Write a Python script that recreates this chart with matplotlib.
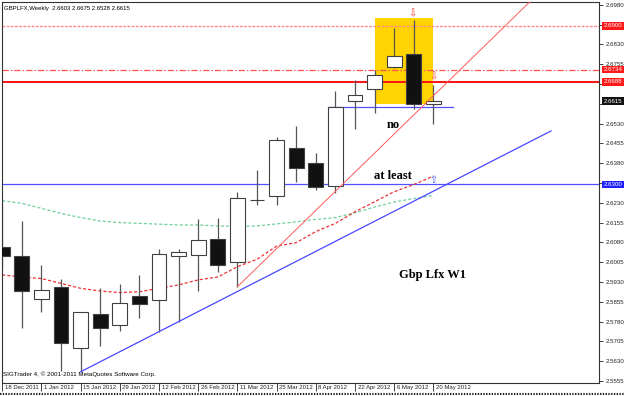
import matplotlib
matplotlib.use('Agg')
import matplotlib.pyplot as plt
import matplotlib.transforms as mtransforms
from matplotlib.patches import Rectangle

plt.rcParams['lines.scale_dashes'] = False

# weekly GBPLFX candles, 18 Dec 2011 .. 20 May 2012
opens = [2.6064, 2.6030, 2.5865, 2.5912, 2.5681, 2.5808, 2.5766, 2.5876, 2.5861, 2.6027, 2.6031, 2.6093,
         2.6005, 2.6240, 2.6257, 2.6439, 2.6380, 2.6294, 2.6617, 2.6660, 2.6743, 2.6792, 2.6603]
highs = [2.6234, 2.6161, 2.5994, 2.5941, 2.5818, 2.5908, 2.5922, 2.5957, 2.6055, 2.6055, 2.6169, 2.6174,
         2.6271, 2.6354, 2.6480, 2.6522, 2.6417, 2.6654, 2.6695, 2.6733, 2.6892, 2.6922, 2.6675]
lows = [2.5979, 2.5757, 2.5816, 2.5594, 2.5590, 2.5689, 2.5746, 2.5795, 2.5741, 2.5777, 2.5897, 2.5967,
        2.5912, 2.6222, 2.6222, 2.6308, 2.6277, 2.6268, 2.6509, 2.6571, 2.6739, 2.6584, 2.6528]
closes = [2.6028, 2.5896, 2.5900, 2.5700, 2.5815, 2.5757, 2.5849, 2.5848, 2.6037, 2.6045, 2.6088, 2.5993,
          2.6247, 2.6242, 2.6468, 2.6361, 2.6289, 2.6592, 2.6637, 2.6714, 2.6785, 2.6603, 2.6615]

# moving averages (red fast, green slow)
red_ma = [2.5957, 2.5949, 2.5943, 2.5925, 2.5906, 2.5896, 2.5890, 2.5893, 2.5906, 2.5919, 2.5938, 2.5949,
          2.5988, 2.6016, 2.6066, 2.6079, 2.6121, 2.6152, 2.6196, 2.6234, 2.6272, 2.6299, 2.6331]
green_ma = [2.6238, 2.6228, 2.6209, 2.6190, 2.6174, 2.6161, 2.6155, 2.6152, 2.6149, 2.6146, 2.6146, 2.6142,
            2.6141, 2.6142, 2.6150, 2.6158, 2.6167, 2.6174, 2.6192, 2.6214, 2.6233, 2.6246, 2.6258]

date_pos = [0, 2, 4, 6, 8, 10, 12, 14, 16, 18, 20, 22]
date_labels = ['18 Dec 2011', '1 Jan 2012', '15 Jan 2012', '29 Jan 2012', '12 Feb 2012', '26 Feb 2012',
               '11 Mar 2012', '25 Mar 2012', '8 Apr 2012', '22 Apr 2012', '6 May 2012', '20 May 2012']

# objects drawn on the chart
level_690 = 2.6900
level_673 = 2.6734
level_669 = 2.6688
level_630 = 2.6300
bid = 2.6615
top_line = 2.6592
blue_trend_x = [4, 28]
blue_trend_y = [2.5590, 2.6502]
red_trend_x = [12, 28]
red_trend_y = [2.5912, 2.7069]
box_x = [19, 22]
box_y = [2.6604, 2.6928]

fig = plt.figure(figsize=(6.25, 3.96), dpi=100)
ax = fig.add_axes([1.7 / 625, 1 - 382.5 / 396, (599.5 - 1.7) / 625, (382.5 - 2) / 396])
ax.set_xlim(-0.0255, 30.474)
ax.set_ylim(2.55495, 2.69902)

small = 'Liberation Sans'

# yellow zone
ax.add_patch(Rectangle((box_x[0], box_y[0]), box_x[1] - box_x[0], box_y[1] - box_y[0],
                       facecolor='#ffd400', edgecolor='none', zorder=0.5))

# horizontal levels
ax.axhline(level_690, color='#ff8a8a', lw=1.0, ls=(0, (2, 1)), zorder=1)
ax.axhline(level_673, color='#ff5050', lw=0.9, ls=(0, (4.5, 1.5, 1, 1.5)), zorder=1)
ax.axhline(level_669, color='#ff1010', lw=1.4, zorder=1)
ax.axhline(level_630, color='#5050ff', lw=0.9, zorder=1)
ax.plot([16.6, 23], [top_line, top_line], color='#5050ff', lw=0.9, zorder=1)

# moving averages
xs = list(range(len(opens)))
ax.plot(xs, green_ma, color='#6fcf9a', lw=0.9, ls=(0, (2.2, 1.5)), zorder=1.5)
ax.plot(xs, red_ma, color='#f03030', lw=0.9, ls=(0, (2.2, 1.5)), zorder=1.5)

# candles
ax.vlines(xs, lows, highs, color='#555555', lw=0.9, zorder=2)
for i in xs:
    o, c = opens[i], closes[i]
    bottom = min(o, c)
    h = max(abs(c - o), 0.0002)
    fc = '#ffffff' if c >= o else '#111111'
    ax.bar(i, h, bottom=bottom, width=0.75, color=fc, edgecolor='#404040', lw=0.8, zorder=3)

# trend lines
ax.plot(blue_trend_x, blue_trend_y, color='#4848ff', lw=0.9, zorder=4)
ax.plot(red_trend_x, red_trend_y, color='#ff5a5a', lw=0.7, zorder=4)

# arrows and notes
ax.text(20.95, 2.6949, '\u21e9', color='#ff3a3a', fontsize=7, ha='center', va='center', zorder=6)
ax.text(22.0, 2.6710, '\u21e9', color='#ff3a3a', fontsize=7, ha='center', va='center', zorder=6)
ax.text(22.0, 2.6316, '\u21e7', color='#4060ff', fontsize=7, ha='center', va='center', zorder=6)
ax.text(19.97, 2.6524, 'no', family='Liberation Serif', weight='bold', fontsize=9,
        ha='center', va='center', zorder=6)
ax.text(19.95, 2.6333, 'at least', family='Liberation Serif', weight='bold', fontsize=9,
        ha='center', va='center', zorder=6)
ax.text(21.95, 2.5956, 'Gbp Lfx W1', family='Liberation Serif', weight='bold', fontsize=9,
        ha='center', va='center', zorder=6)

ax.text(0.004, 0.99, 'GBPLFX,Weekly  2.6603 2.6675 2.6528 2.6615', transform=ax.transAxes,
        family=small, fontsize=4.3, ha='left', va='top')
ax.text(0.002, 0.022, 'SIGTrader 4, \u00a9 2001-2011 MetaQuotes Software Corp.', transform=ax.transAxes,
        family=small, fontsize=4.5, ha='left', va='center')

# right price scale (labels under the coloured boxes are left out)
ticks = [round(2.5555 + 0.0075 * k, 4) for k in range(20)]
hidden = [2.6905, 2.6680, 2.6605, 2.6305]
ax.yaxis.tick_right()
ax.set_yticks(ticks)
ax.set_yticklabels(['' if t in hidden else '%.4f' % t for t in ticks], family=small, fontsize=4.4)
ax.tick_params(axis='y', length=3, width=0.6, pad=1.2, colors='#222222')

for val, fc in [(level_690, '#ff1a1a'), (level_673, '#ff1a1a'), (level_669, '#ff1a1a'),
                (bid, '#111111'), (level_630, '#2020ff')]:
    ax.annotate('%.4f' % val, xy=(1, val), xycoords=('axes fraction', 'data'),
                xytext=(3.0, 0), textcoords='offset points', ha='left', va='center',
                family=small, fontsize=4.4, color='white', annotation_clip=False, zorder=10,
                bbox=dict(boxstyle='square,pad=0.2', fc=fc, ec='none'))

# date scale
ax.set_xticks(date_pos)
ax.set_xticklabels(date_labels, family=small, fontsize=4.3, ha='left')
ax.tick_params(axis='x', length=6, width=0.6, pad=-4.5, colors='#222222')
offset = mtransforms.ScaledTranslation(2.5 / 100, 0, fig.dpi_scale_trans)
for lab in ax.get_xticklabels():
    lab.set_transform(lab.get_transform() + offset)

for s in ax.spines.values():
    s.set_color('#333333')
    s.set_linewidth(0.8)

fig.add_artist(plt.Line2D([0, 1], [0.004, 0.004], color='#222222', lw=1.5, ls=(0, (1, 1)),
                          transform=fig.transFigure))

fig.savefig('out.png', dpi=100, facecolor='white')
